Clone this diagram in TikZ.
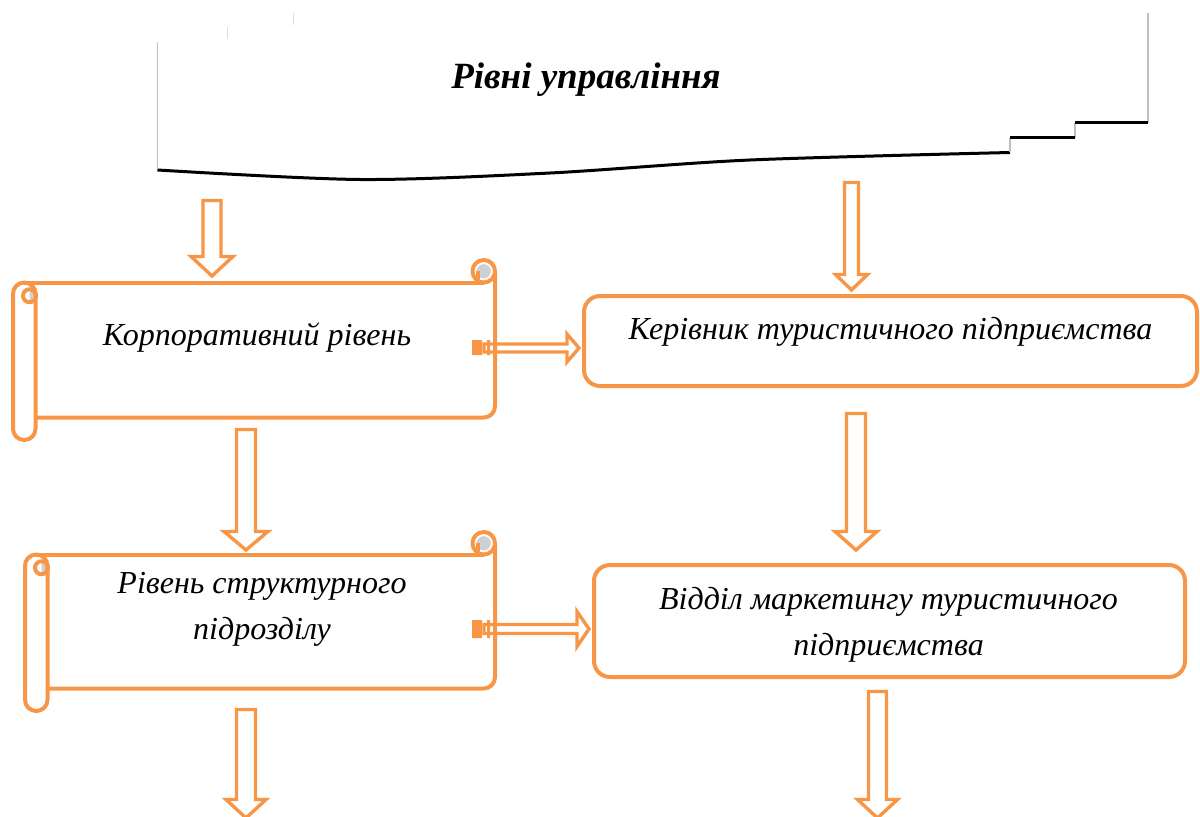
\documentclass[tikz,border=0pt]{standalone}
\usepackage{fontspec}
\setmainfont{Liberation Serif}
\usetikzlibrary{calc,positioning}
\definecolor{accorange}{RGB}{247,150,70}
\definecolor{curlgrey}{RGB}{208,208,208}
\definecolor{thingrey}{RGB}{192,192,192}
\definecolor{tickgrey}{RGB}{222,222,222}

\begin{document}
\begin{tikzpicture}[x=0.5pt, y=0.5pt, line join=round,
		scrl/.style={draw=accorange, line width=2pt},
		box/.style={draw=accorange, line width=2pt, rounded corners=8pt, inner sep=0pt},
		blockarr/.style={draw=accorange, fill=white, line width=1.7pt, line join=miter},
		lbl/.style={font=\fontsize{16}{23}\selectfont\itshape, align=center, inner sep=0pt}]
		\useasboundingbox (0,0) rectangle (1200,816);
		\clip (0,0) rectangle (1200,816);
		\def\ch{22.5} \def\chh{11.25} \def\chq{5.625}
		% scroll: left #1, top #2, right #3, bottom #4
		\newcommand{\scroll}[4]{
			\fill[curlgrey] (#3-\chh,#2-\chh) circle (\chq+1.5);
			\fill[curlgrey] (#1+16.5,#2-\ch-\chh-2+6.5) arc (90:-90:6.5) -- cycle;
			\draw[scrl] (#1+\chh,#2-\ch) -- (#3-\chh,#2-\ch);
			\draw[scrl] (#3-\chh,#2-\chh) circle (\chh);
			\draw[scrl] (#3-\chh-\chq,#2-\chh) -- (#3-\chh-\chq,#2-\ch);
			\draw[scrl] (#3,#2-\chh) -- (#3,#4+\ch+\chh) arc (0:-90:\chh) -- (#1+\ch,#4+\ch);
			\draw[scrl, rounded corners=5.6pt] (#1,#4) rectangle (#1+\ch,#2-\ch);
			\draw[scrl] (#1+16.5,#2-\ch-\chh-2) circle (6.5);}
		% hollow arrow to the right: from #1 to the x of #2
		\newcommand{\rarr}[5]{
			\draw[blockarr] ($(#1)+(0,#4)$) -- ($(#1 -| #2)+(-#3,#4)$) -- ($(#1 -| #2)+(-#3,#5)$)
				-- (#1 -| #2) -- ($(#1 -| #2)+(-#3,-#5)$) -- ($(#1 -| #2)+(-#3,-#4)$) -- ($(#1)+(0,-#4)$) -- cycle;}
		% hollow arrow downwards: from #1 to #2
		\newcommand{\darr}[5]{
			\draw[blockarr] ($(#1)+(-#4,0)$) -- ($(#1)+(#4,0)$) -- ($(#2)+(#4,#3)$) -- ($(#2)+(#5,#3)$)
				-- (#2) -- ($(#2)+(-#5,#3)$) -- ($(#2)+(-#4,#3)$) -- cycle;}
		%%% top banner
		\draw[thingrey, line width=0.6pt] (157.5,646) -- (157.5,774);
		\draw[thingrey, line width=0.6pt] (1148,693) -- (1148,803);
		\draw[tickgrey, line width=0.6pt] (227.5,777) -- (227.5,789);
		\draw[tickgrey, line width=0.6pt] (293.5,791) -- (293.5,803);
		\draw[line width=1.5pt] plot[smooth] coordinates {(157.5,646) (360,636.5) (550,643) (750,656) (1010,663.5)};
		\draw[thingrey, line width=0.6pt] (1010,663.5) -- (1010,678) (1075,678) -- (1075,693);
		\draw[line width=1.5pt] (1010,678) -- (1075,678) (1075,693) -- (1148,693);
		\node[font=\fontsize{18.5}{22}\selectfont\bfseries\itshape, inner sep=0pt] (title) at (586,736) {Рівні управління};
		%%% right column
		\node[box, minimum width=306.5pt, minimum height=45pt] (boss) at (890.5,475) {};
		\node[lbl] (bosst) at ([yshift=4.5pt]boss.center) {Керівник туристичного підприємства};
		\node[box, minimum width=295.5pt, minimum height=56pt] (mkt) at (889.5,195) {};
		\node[lbl] (mktt) at (888.5,191) {Відділ маркетингу туристичного\\підприємства};
		%%% left column
		\coordinate (corpR) at (484,468);
		\coordinate (deptR) at (484,187);
		\coordinate (t1) at ([xshift=-1.5pt]boss.west);
		\coordinate (t2) at ([xshift=-1.5pt]mkt.west);
		\rarr{corpR}{t1}{12}{4}{14}
		\rarr{deptR}{t2}{12}{4.5}{17.5}
		\scroll{13}{556}{495}{376}
		\scroll{25}{284}{495}{105}
		\fill[accorange] (472,461) rectangle (482,476) (487,461) rectangle (490,476);
		\fill[accorange] (472,178) rectangle (482,196) (487,178) rectangle (490,196);
		\node[lbl] (corp) at (257,478) {Корпоративний рівень};
		\node[lbl] (dept) at (262,207) {Рівень структурного\\підрозділу};
		%%% down arrows
		\coordinate (a1s) at (212,615.5); \coordinate (a1e) at (212,540);
		\coordinate (a2s) at (851.5,633.5); \coordinate (a2e) at (851.5,526);
		\coordinate (a3s) at (246,386.5); \coordinate (a3e) at (246,266);
		\coordinate (a4s) at (856,402.5); \coordinate (a4e) at (856,266);
		\coordinate (a5s) at (246,106.5); \coordinate (a5e) at (246,-2);
		\coordinate (a6s) at (877.5,124.5); \coordinate (a6e) at (877.5,-2);
		\darr{a1s}{a1e}{19.5}{9}{21}
		\darr{a2s}{a2e}{15.5}{7}{16}
		\darr{a3s}{a3e}{18.5}{9.5}{22}
		\darr{a4s}{a4e}{18.5}{9.5}{21}
		\darr{a5s}{a5e}{18.5}{9.5}{20}
		\darr{a6s}{a6e}{18.5}{9}{20}
	\end{tikzpicture}
\end{document}
